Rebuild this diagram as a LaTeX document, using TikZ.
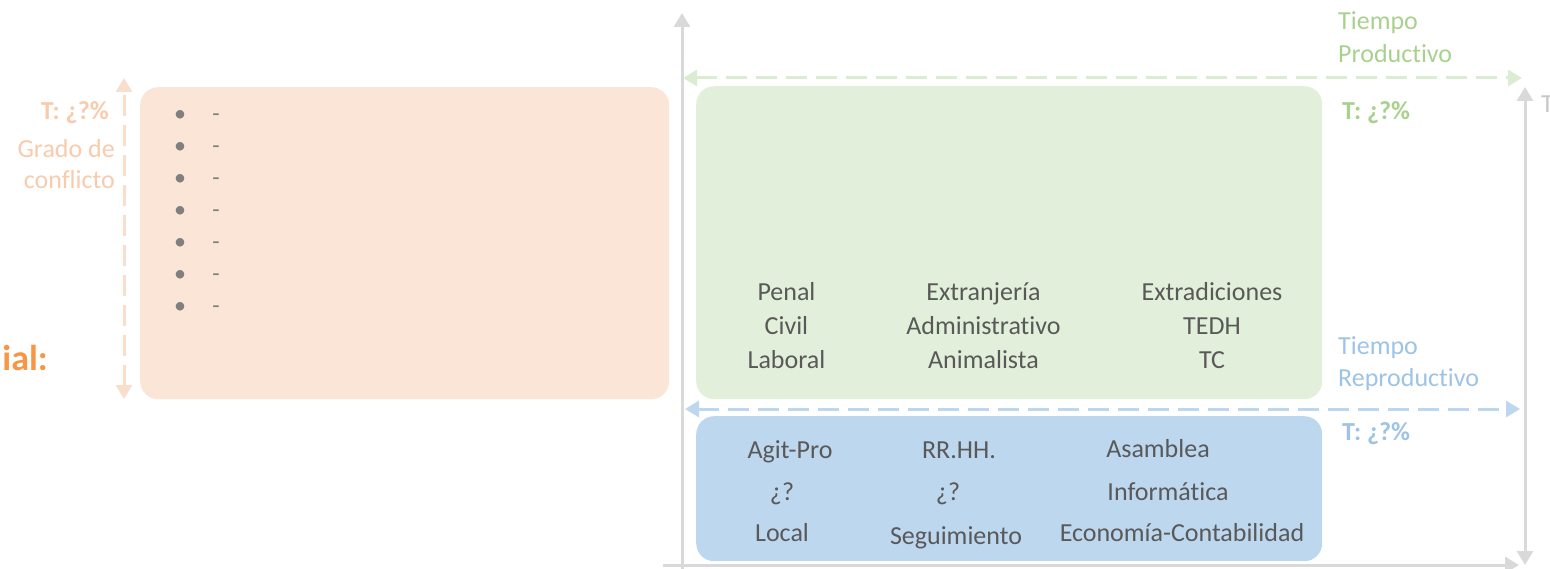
\documentclass[tikz,border=0pt]{standalone}
\usepackage{fontspec}
\setmainfont{Carlito}[Ligatures=NoCommon]
\usetikzlibrary{matrix,positioning,arrows.meta}

\definecolor{orangebox}{RGB}{251,229,214}
\definecolor{orangeline}{RGB}{250,222,204}
\definecolor{orangetext}{RGB}{248,203,173}
\definecolor{orangetitle}{RGB}{247,150,70}
\definecolor{greenbox}{RGB}{226,239,218}
\definecolor{greenline}{RGB}{220,236,210}
\definecolor{greentext}{RGB}{169,209,142}
\definecolor{bluebox}{RGB}{189,215,238}
\definecolor{blueline}{RGB}{189,215,238}
\definecolor{bluetext}{RGB}{157,195,230}
\definecolor{axisgray}{RGB}{217,217,217}
\definecolor{textgray}{RGB}{89,89,89}
\definecolor{bulletgray}{RGB}{127,127,127}

\begin{document}
\begin{tikzpicture}[
    x=1pt, y=-1pt,
    >={Triangle[width=16pt,length=14pt]},
    abox/.style={
        rounded corners=18pt,
        inner sep=0pt,
        anchor=north west
        },
    txt/.style={
        font=\fontsize{26}{32}\selectfont,
        text=textgray,
        inner sep=0pt,
        anchor=base
        },
    side/.style={
        font=\fontsize{26}{32}\selectfont,
        inner sep=0pt,
        anchor=base west
        },
    tlabel/.style={
        font=\fontsize{26}{32}\selectfont\bfseries,
        inner sep=0pt,
        anchor=base west
        },
    bul/.style={
        font=\fontsize{24}{28}\selectfont,
        text=bulletgray,
        inner sep=0pt,
        anchor=base
        },
    axis/.style={draw=axisgray, line width=3pt},
    dline/.style={line width=3pt, dash pattern=on 21pt off 9pt},
    amatrix/.style={
        matrix of nodes,
        nodes={
            txt,
            anchor=center,
            text height=17pt,
            text depth=6pt
            },
        column sep=81pt,
        row sep=11pt,
        inner sep=0pt
    }
]
\useasboundingbox (0,0) rectangle (1550,569);

% Boxes
\node[abox, fill=orangebox, minimum width=529pt, minimum height=312pt] (conflict) at (140,87) {};
\node[abox, fill=greenbox, minimum width=626pt, minimum height=313pt] (prod) at (696,86) {};
\node[abox, fill=bluebox, minimum width=626pt, minimum height=145pt] (repr) at (696,416) {};

% Axes
\coordinate (origin) at (682,569);
\coordinate (ytop) at (682,13);
\coordinate (xleft) at (663,565);
\coordinate (xright) at (1519,565);
\coordinate (ttop) at (1525,87);
\coordinate (tbot) at (1525,565);
\draw[axis, ->] (origin) -- (ytop);
\draw[axis, ->] (xleft) -- (xright);
\draw[axis, <->] (tbot) -- (ttop);
\node[side, text=axisgray!80!gray] (ttotal) at (1541,113) {T};

% Dashed arrows
\coordinate (prodL) at (683,78);
\coordinate (prodR) at (1522,78);
\coordinate (reprL) at (685,409);
\coordinate (reprR) at (1520,409);
\coordinate (confT) at (124,78);
\coordinate (confB) at (124,399);
\draw[dline, draw=greenline, <->] (prodL) -- (prodR);
\draw[dline, draw=blueline, <->] (reprL) -- (reprR);
\draw[dline, draw=orangeline, <->] (confB) -- (confT);

% Side labels
\node[side, text=greentext] (prodA) at (1338,30) {Tiempo};
\node[side, text=greentext] (prodB) at (1338,63) {Productivo};
\node[tlabel, text=greentext] (prodT) at (1342,120) {T: ¿?\%};
\node[side, text=bluetext] (reprA) at (1338,354) {Tiempo};
\node[side, text=bluetext] (reprB) at (1338,386) {Reproductivo};
\node[tlabel, text=bluetext] (reprT) at (1342,440) {T: ¿?\%};
\node[tlabel, text=orangetext, anchor=base east] (confTxt) at (109,120) {T: ¿?\%};
\node[side, text=orangetext, anchor=base east] (confA) at (115,158) {Grado de};
\node[side, text=orangetext, anchor=base east] (confB2) at (115,189) {conflicto};
\node[font=\fontsize{36}{40}\selectfont\bfseries, text=orangetitle, inner sep=0pt, anchor=base east] (title) at (48,370) {ial:};

% Bullet list
\foreach \i in {0,...,6} {
    \node[bul] (dot\i) at (180,122+32*\i) {•};
    \node[bul] (dash\i) at (216,122+32*\i) {-};
}

% Productive areas
\matrix[amatrix] (areas) at (1015,328.5) {
    Penal & Extranjería & Extradiciones \\
    Civil & Administrativo & TEDH \\
    Laboral & Animalista & TC \\
};

% Reproductive areas
\foreach \name/\x/\y/\t in {agit/790/458/Agit-Pro, qa/782/500/¿?, local/782/541/Local,
    rrhh/959/458/RR.HH., qb/948/500/¿?, segui/956/544/Seguimiento,
    asam/1158/457/Asamblea, info/1168/500/Informática, econ/1182/541/Economía-Contabilidad}
    \node[txt] (\name) at (\x,\y) {\t};

\end{tikzpicture}
\end{document}
